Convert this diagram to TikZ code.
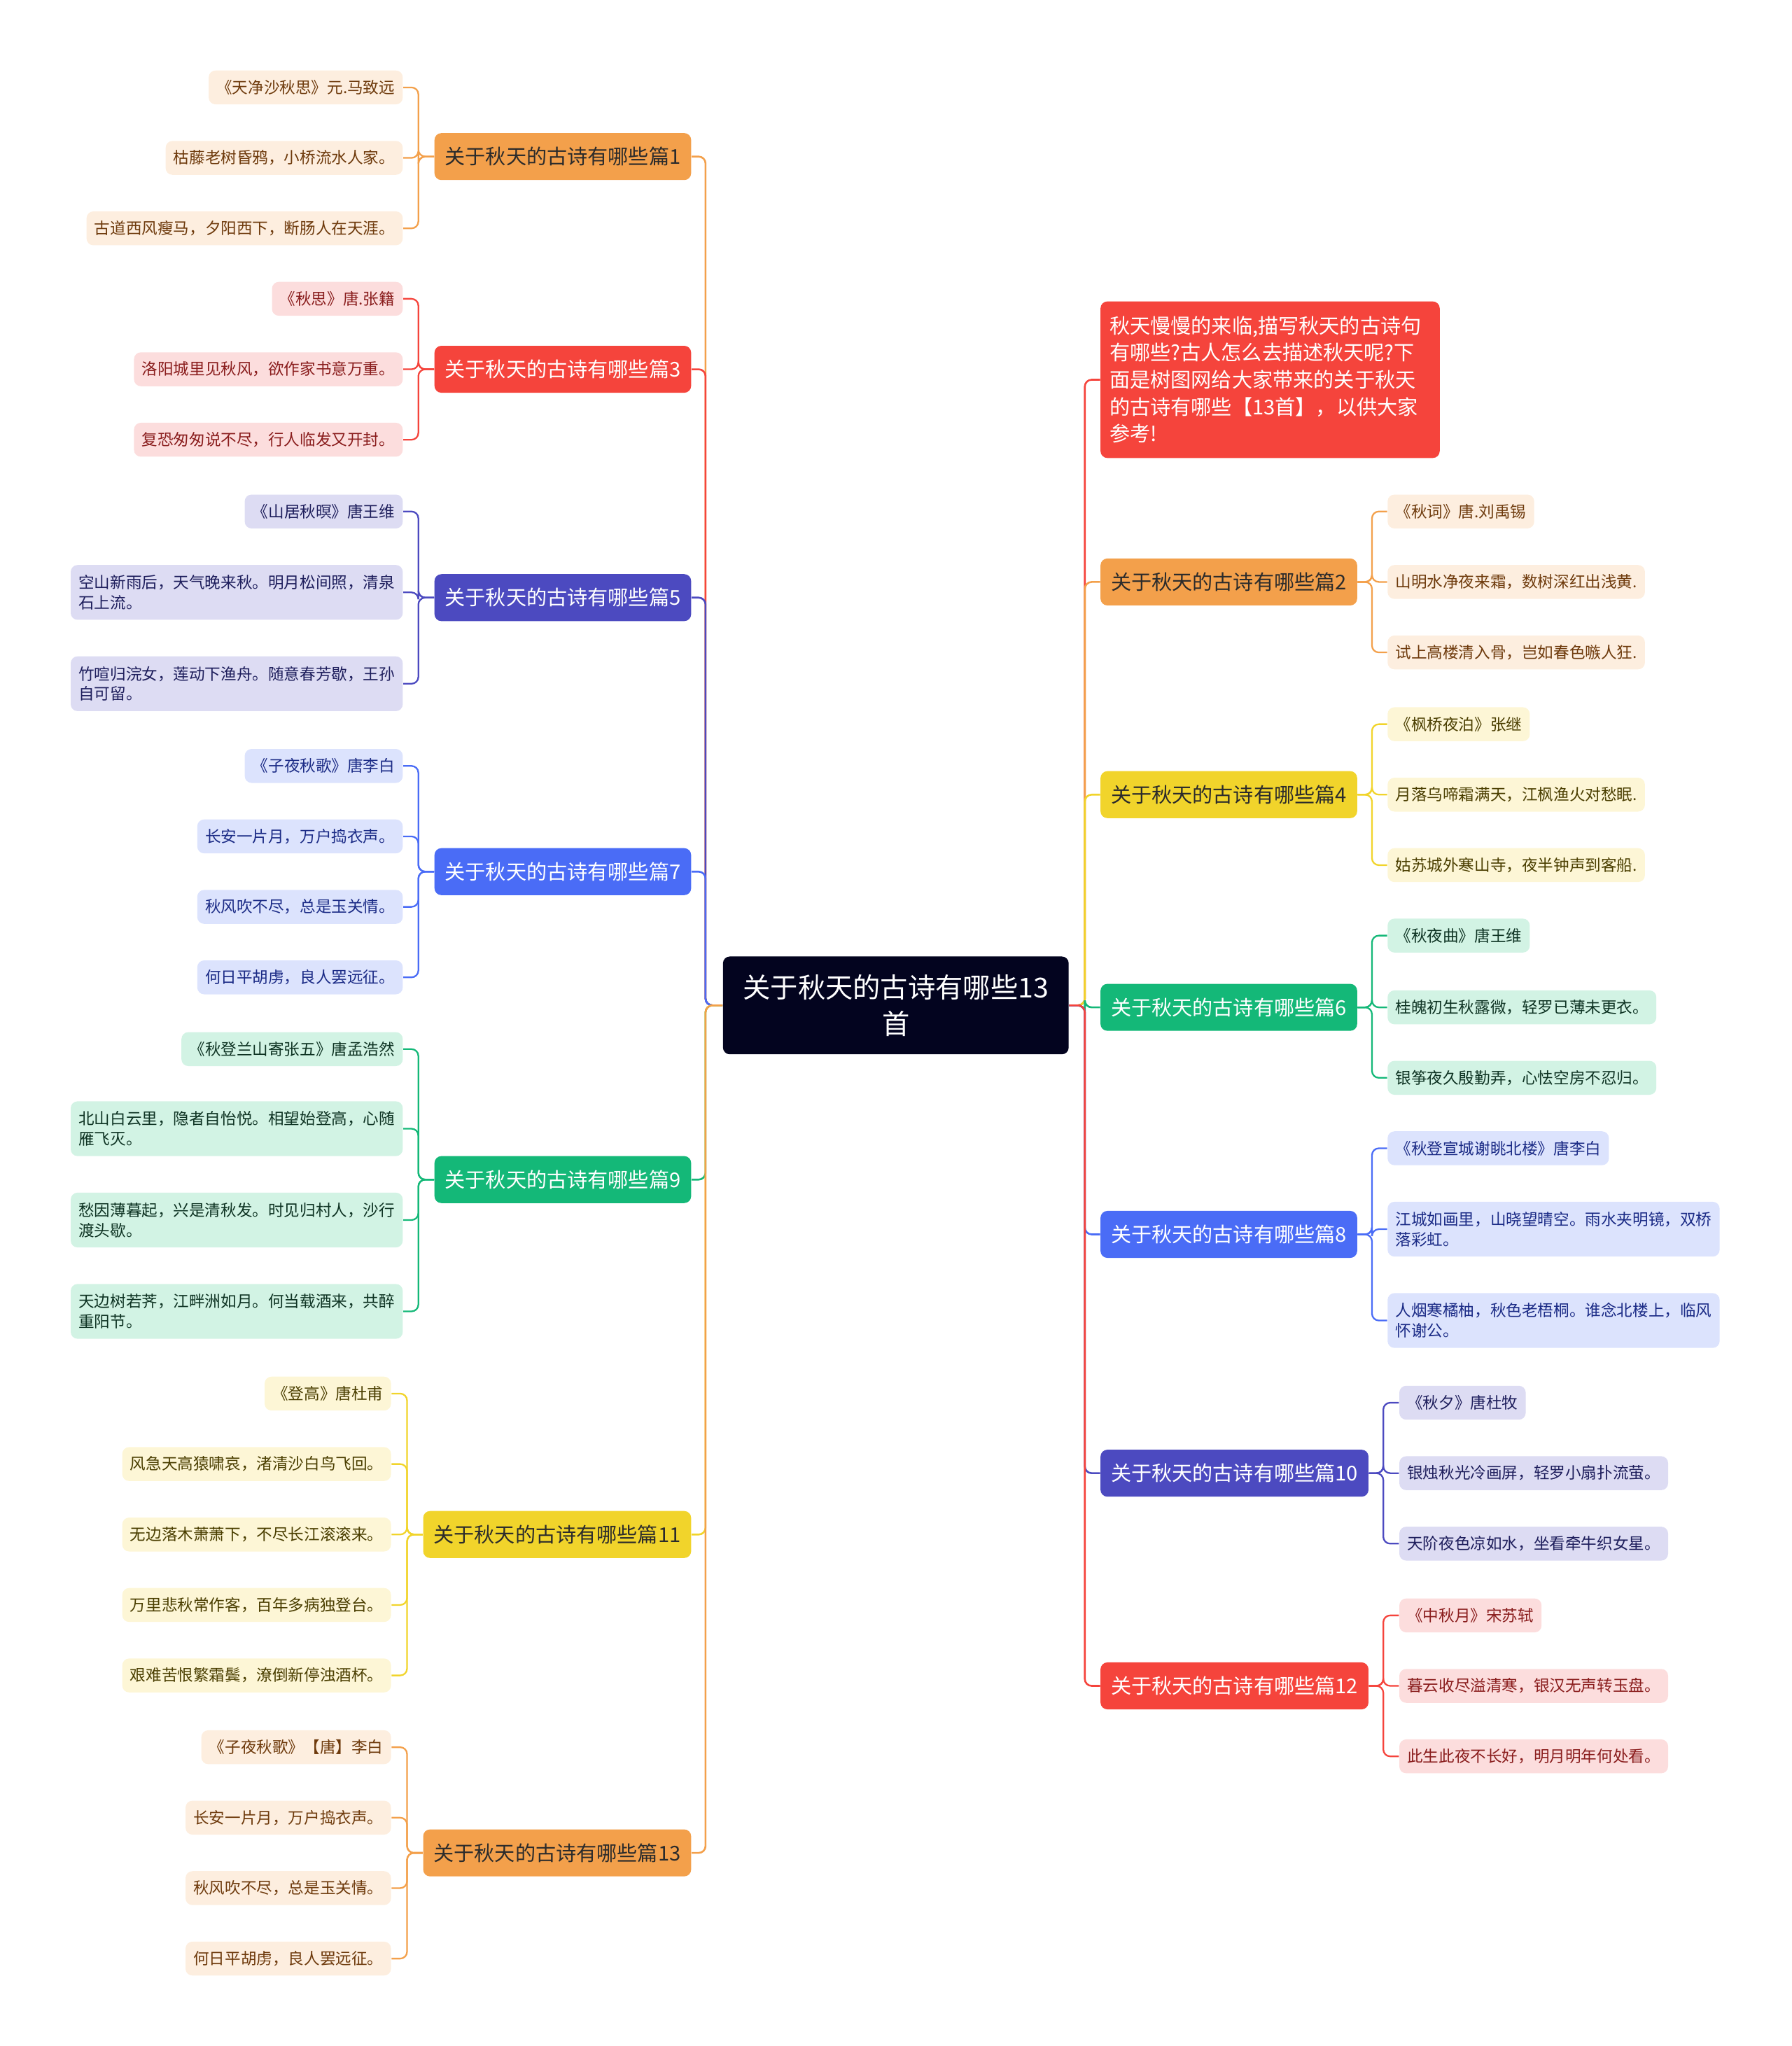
\documentclass[tikz,border=0pt]{standalone}
\usepackage{fontspec}
\setmainfont{Noto Sans CJK SC}
\usepackage{xcolor}
\definecolor{orgD}{HTML}{F3A04B}
\definecolor{orgL}{HTML}{FDEEDF}
\definecolor{orgT}{HTML}{6E3A0C}
\definecolor{redD}{HTML}{F5443C}
\definecolor{redL}{HTML}{FCDDDD}
\definecolor{redT}{HTML}{8A1D1D}
\definecolor{indD}{HTML}{4C4AC0}
\definecolor{indL}{HTML}{DDDCF3}
\definecolor{indT}{HTML}{1E1E5C}
\definecolor{bluD}{HTML}{4A6CF6}
\definecolor{bluL}{HTML}{DCE3FD}
\definecolor{bluT}{HTML}{1B2B86}
\definecolor{grnD}{HTML}{14B878}
\definecolor{grnL}{HTML}{D2F3E4}
\definecolor{grnT}{HTML}{0E3323}
\definecolor{yelD}{HTML}{F1D42B}
\definecolor{yelL}{HTML}{FDF6D6}
\definecolor{yelT}{HTML}{4A3E00}
\definecolor{rootD}{HTML}{03041F}
\definecolor{darkT}{HTML}{2B2B2B}
\usepackage{tikz}
\newcommand\rootfont{\fontsize{12}{16}\selectfont}
\newcommand\topicfont{\fontsize{8.9}{11.8}\selectfont}
\newcommand\leaffont{\fontsize{6.9}{8.8}\selectfont}

\begin{document}
\begin{tikzpicture}[
  x=0.02cm, y=-0.02cm,
  rootbox/.style={fill=rootD, rounded corners=3pt, text=white, font=\rootfont, minimum width=5.3cm, minimum height=1.5cm, align=center},
  topic/.style={fill=#1, rounded corners=3pt, text=white, font=\topicfont, minimum height=0.72cm, inner xsep=0.16cm},
  topicdk/.style={topic=#1, text=darkT},
  leaf/.style={fill=#1L, text=#1T, rounded corners=3pt, font=\leaffont, inner xsep=0.12cm, inner ysep=3pt, minimum height=0.52cm, align=left},
  leaftwo/.style={leaf=#1, minimum height=0.84cm},
  conn/.style={draw=#1, line width=0.8pt, rounded corners=3pt},
  sub/.style={draw=#1, line width=0.7pt, rounded corners=3pt}
]
\useasboundingbox (0,0) rectangle (1373,1568);

\node[rootbox] (root) at (686.5,770.5) {关于秋天的古诗有哪些13\\首};

% left side
\node[topicdk=orgD, anchor=east] (t1) at (530,120) {关于秋天的古诗有哪些篇1};
\node[topic=redD, anchor=east] (t3) at (530,283) {关于秋天的古诗有哪些篇3};
\node[topic=indD, anchor=east] (t5) at (530,458) {关于秋天的古诗有哪些篇5};
\node[topic=bluD, anchor=east] (t7) at (530,668) {关于秋天的古诗有哪些篇7};
\node[topic=grnD, anchor=east] (t9) at (530,904) {关于秋天的古诗有哪些篇9};
\node[topicdk=yelD, anchor=east] (t11) at (530,1176) {关于秋天的古诗有哪些篇11};
\node[topicdk=orgD, anchor=east] (t13) at (530,1420) {关于秋天的古诗有哪些篇13};

\node[leaf=org, anchor=east] (t1a) at (309,67) {《天净沙秋思》元.马致远};
\node[leaf=org, anchor=east] (t1b) at (309,121) {枯藤老树昏鸦，小桥流水人家。};
\node[leaf=org, anchor=east] (t1c) at (309,175) {古道西风瘦马，夕阳西下，断肠人在天涯。};

\node[leaf=red, anchor=east] (t3a) at (309,229) {《秋思》唐.张籍};
\node[leaf=red, anchor=east] (t3b) at (309,283) {洛阳城里见秋风，欲作家书意万重。};
\node[leaf=red, anchor=east] (t3c) at (309,337) {复恐匆匆说不尽，行人临发又开封。};

\node[leaf=ind, anchor=east] (t5a) at (309,392) {《山居秋暝》唐王维};
\node[leaftwo=ind, anchor=east] (t5b) at (309,454) {空山新雨后，天气晚来秋。明月松间照，清泉\\石上流。};
\node[leaftwo=ind, anchor=east] (t5c) at (309,524) {竹喧归浣女，莲动下渔舟。随意春芳歇，王孙\\自可留。};

\node[leaf=blu, anchor=east] (t7a) at (309,587) {《子夜秋歌》唐李白};
\node[leaf=blu, anchor=east] (t7b) at (309,641) {长安一片月，万户捣衣声。};
\node[leaf=blu, anchor=east] (t7c) at (309,695) {秋风吹不尽，总是玉关情。};
\node[leaf=blu, anchor=east] (t7d) at (309,749) {何日平胡虏，良人罢远征。};

\node[leaf=grn, anchor=east] (t9a) at (309,804) {《秋登兰山寄张五》唐孟浩然};
\node[leaftwo=grn, anchor=east] (t9b) at (309,865) {北山白云里，隐者自怡悦。相望始登高，心随\\雁飞灭。};
\node[leaftwo=grn, anchor=east] (t9c) at (309,935) {愁因薄暮起，兴是清秋发。时见归村人，沙行\\渡头歇。};
\node[leaftwo=grn, anchor=east] (t9d) at (309,1005) {天边树若荠，江畔洲如月。何当载酒来，共醉\\重阳节。};

\node[leaf=yel, anchor=east] (t11a) at (300,1068) {《登高》唐杜甫};
\node[leaf=yel, anchor=east] (t11b) at (300,1122) {风急天高猿啸哀，渚清沙白鸟飞回。};
\node[leaf=yel, anchor=east] (t11c) at (300,1176) {无边落木萧萧下，不尽长江滚滚来。};
\node[leaf=yel, anchor=east] (t11d) at (300,1230) {万里悲秋常作客，百年多病独登台。};
\node[leaf=yel, anchor=east] (t11e) at (300,1284) {艰难苦恨繁霜鬓，潦倒新停浊酒杯。};

\node[leaf=org, anchor=east] (t13a) at (300,1339) {《子夜秋歌》【唐】李白};
\node[leaf=org, anchor=east] (t13b) at (300,1393) {长安一片月，万户捣衣声。};
\node[leaf=org, anchor=east] (t13c) at (300,1447) {秋风吹不尽，总是玉关情。};
\node[leaf=org, anchor=east] (t13d) at (300,1501) {何日平胡虏，良人罢远征。};

% right side
\node[topic=redD, anchor=west, align=left, text width=4.92cm, inner xsep=0.14cm, minimum height=2.4cm] (intro) at (843,291) {秋天慢慢的来临,描写秋天的古诗句\\有哪些?古人怎么去描述秋天呢?下\\面是树图网给大家带来的关于秋天\\的古诗有哪些【13首】，以供大家\\参考!};
\node[topicdk=orgD, anchor=west] (t2) at (843,446) {关于秋天的古诗有哪些篇2};
\node[topicdk=yelD, anchor=west] (t4) at (843,609) {关于秋天的古诗有哪些篇4};
\node[topic=grnD, anchor=west] (t6) at (843,772) {关于秋天的古诗有哪些篇6};
\node[topic=bluD, anchor=west] (t8) at (843,946) {关于秋天的古诗有哪些篇8};
\node[topic=indD, anchor=west] (t10) at (843,1129) {关于秋天的古诗有哪些篇10};
\node[topic=redD, anchor=west] (t12) at (843,1292) {关于秋天的古诗有哪些篇12};

\node[leaf=org, anchor=west] (t2a) at (1063,392) {《秋词》唐.刘禹锡};
\node[leaf=org, anchor=west] (t2b) at (1063,446) {山明水净夜来霜，数树深红出浅黄.};
\node[leaf=org, anchor=west] (t2c) at (1063,500) {试上高楼清入骨，岂如春色嗾人狂.};

\node[leaf=yel, anchor=west] (t4a) at (1063,555) {《枫桥夜泊》张继};
\node[leaf=yel, anchor=west] (t4b) at (1063,609) {月落乌啼霜满天，江枫渔火对愁眠.};
\node[leaf=yel, anchor=west] (t4c) at (1063,663) {姑苏城外寒山寺，夜半钟声到客船.};

\node[leaf=grn, anchor=west] (t6a) at (1063,717) {《秋夜曲》唐王维};
\node[leaf=grn, anchor=west] (t6b) at (1063,772) {桂魄初生秋露微，轻罗已薄未更衣。};
\node[leaf=grn, anchor=west] (t6c) at (1063,826) {银筝夜久殷勤弄，心怯空房不忍归。};

\node[leaf=blu, anchor=west] (t8a) at (1063,880) {《秋登宣城谢眺北楼》唐李白};
\node[leaftwo=blu, anchor=west] (t8b) at (1063,942) {江城如画里，山晓望晴空。雨水夹明镜，双桥\\落彩虹。};
\node[leaftwo=blu, anchor=west] (t8c) at (1063,1012) {人烟寒橘柚，秋色老梧桐。谁念北楼上，临风\\怀谢公。};

\node[leaf=ind, anchor=west] (t10a) at (1072,1075) {《秋夕》唐杜牧};
\node[leaf=ind, anchor=west] (t10b) at (1072,1129) {银烛秋光冷画屏，轻罗小扇扑流萤。};
\node[leaf=ind, anchor=west] (t10c) at (1072,1183) {天阶夜色凉如水，坐看牵牛织女星。};

\node[leaf=red, anchor=west] (t12a) at (1072,1238) {《中秋月》宋苏轼};
\node[leaf=red, anchor=west] (t12b) at (1072,1292) {暮云收尽溢清寒，银汉无声转玉盘。};
\node[leaf=red, anchor=west] (t12c) at (1072,1346) {此生此夜不长好，明月明年何处看。};

% root to topics
\draw[conn=orgD] (root.west) -- ++(-13,0) |- (t1.east);
\draw[conn=redD] (root.west) -- ++(-13,0) |- (t3.east);
\draw[conn=indD] (root.west) -- ++(-13,0) |- (t5.east);
\draw[conn=bluD] (root.west) -- ++(-13,0) |- (t7.east);
\draw[conn=grnD] (root.west) -- ++(-13,0) |- (t9.east);
\draw[conn=yelD] (root.west) -- ++(-13,0) |- (t11.east);
\draw[conn=orgD] (root.west) -- ++(-13,0) |- (t13.east);

\draw[conn=redD] (root.east) -- ++(12,0) |- (intro.west);
\draw[conn=orgD] (root.east) -- ++(12,0) |- (t2.west);
\draw[conn=yelD] (root.east) -- ++(12,0) |- (t4.west);
\draw[conn=grnD] (root.east) -- ++(12,0) |- (t6.west);
\draw[conn=bluD] (root.east) -- ++(12,0) |- (t8.west);
\draw[conn=indD] (root.east) -- ++(12,0) |- (t10.west);
\draw[conn=redD] (root.east) -- ++(12,0) |- (t12.west);

% topics to leaves
\draw[sub=orgD] (t1.west) -- ++(-12,0) |- (t1a.east);
\draw[sub=orgD] (t1.west) -- ++(-12,0) |- (t1b.east);
\draw[sub=orgD] (t1.west) -- ++(-12,0) |- (t1c.east);
\draw[sub=redD] (t3.west) -- ++(-12,0) |- (t3a.east);
\draw[sub=redD] (t3.west) -- ++(-12,0) |- (t3b.east);
\draw[sub=redD] (t3.west) -- ++(-12,0) |- (t3c.east);
\draw[sub=indD] (t5.west) -- ++(-12,0) |- (t5a.east);
\draw[sub=indD] (t5.west) -- ++(-12,0) |- (t5b.east);
\draw[sub=indD] (t5.west) -- ++(-12,0) |- (t5c.east);
\draw[sub=bluD] (t7.west) -- ++(-12,0) |- (t7a.east);
\draw[sub=bluD] (t7.west) -- ++(-12,0) |- (t7b.east);
\draw[sub=bluD] (t7.west) -- ++(-12,0) |- (t7c.east);
\draw[sub=bluD] (t7.west) -- ++(-12,0) |- (t7d.east);
\draw[sub=grnD] (t9.west) -- ++(-12,0) |- (t9a.east);
\draw[sub=grnD] (t9.west) -- ++(-12,0) |- (t9b.east);
\draw[sub=grnD] (t9.west) -- ++(-12,0) |- (t9c.east);
\draw[sub=grnD] (t9.west) -- ++(-12,0) |- (t9d.east);
\draw[sub=yelD] (t11.west) -- ++(-12,0) |- (t11a.east);
\draw[sub=yelD] (t11.west) -- ++(-12,0) |- (t11b.east);
\draw[sub=yelD] (t11.west) -- ++(-12,0) |- (t11c.east);
\draw[sub=yelD] (t11.west) -- ++(-12,0) |- (t11d.east);
\draw[sub=yelD] (t11.west) -- ++(-12,0) |- (t11e.east);
\draw[sub=orgD] (t13.west) -- ++(-12,0) |- (t13a.east);
\draw[sub=orgD] (t13.west) -- ++(-12,0) |- (t13b.east);
\draw[sub=orgD] (t13.west) -- ++(-12,0) |- (t13c.east);
\draw[sub=orgD] (t13.west) -- ++(-12,0) |- (t13d.east);

\draw[sub=orgD] (t2.east) -- ++(11,0) |- (t2a.west);
\draw[sub=orgD] (t2.east) -- ++(11,0) |- (t2b.west);
\draw[sub=orgD] (t2.east) -- ++(11,0) |- (t2c.west);
\draw[sub=yelD] (t4.east) -- ++(11,0) |- (t4a.west);
\draw[sub=yelD] (t4.east) -- ++(11,0) |- (t4b.west);
\draw[sub=yelD] (t4.east) -- ++(11,0) |- (t4c.west);
\draw[sub=grnD] (t6.east) -- ++(11,0) |- (t6a.west);
\draw[sub=grnD] (t6.east) -- ++(11,0) |- (t6b.west);
\draw[sub=grnD] (t6.east) -- ++(11,0) |- (t6c.west);
\draw[sub=bluD] (t8.east) -- ++(11,0) |- (t8a.west);
\draw[sub=bluD] (t8.east) -- ++(11,0) |- (t8b.west);
\draw[sub=bluD] (t8.east) -- ++(11,0) |- (t8c.west);
\draw[sub=indD] (t10.east) -- ++(11,0) |- (t10a.west);
\draw[sub=indD] (t10.east) -- ++(11,0) |- (t10b.west);
\draw[sub=indD] (t10.east) -- ++(11,0) |- (t10c.west);
\draw[sub=redD] (t12.east) -- ++(11,0) |- (t12a.west);
\draw[sub=redD] (t12.east) -- ++(11,0) |- (t12b.west);
\draw[sub=redD] (t12.east) -- ++(11,0) |- (t12c.west);
\end{tikzpicture}
\end{document}
